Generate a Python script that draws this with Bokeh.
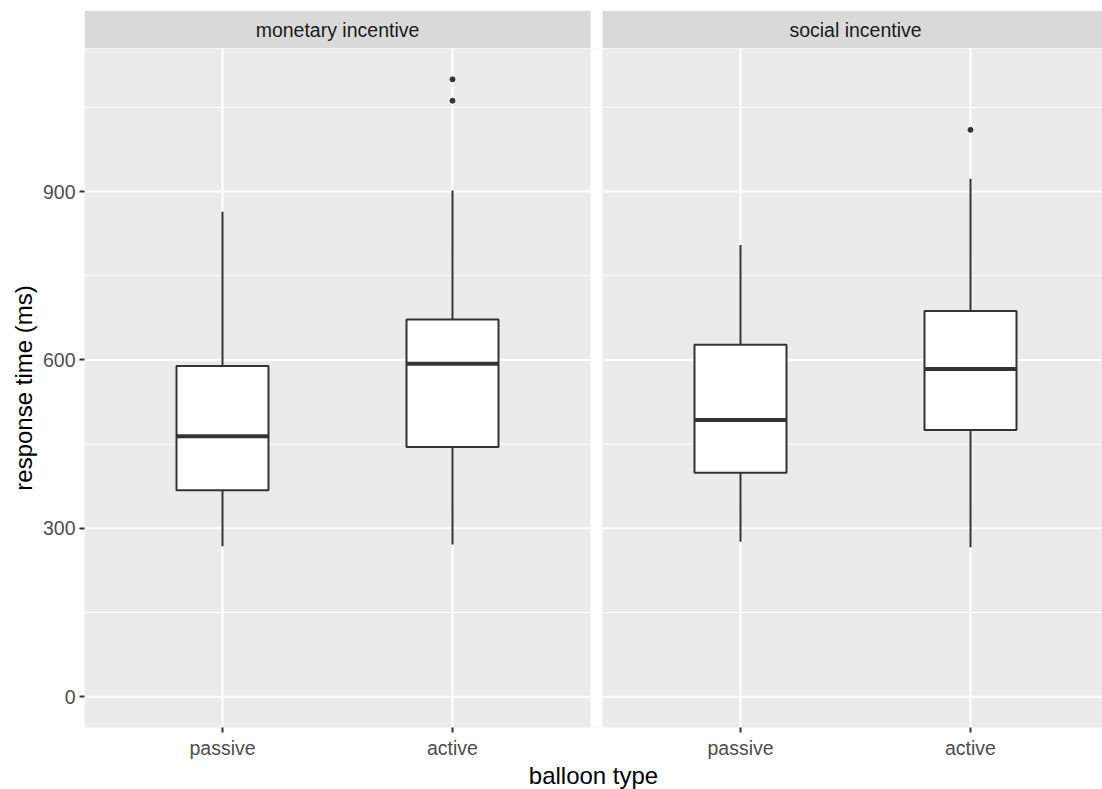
from bokeh.plotting import figure
from bokeh.layouts import column
from bokeh.models import FixedTicker, BoxAnnotation, Range1d, ColumnDataSource
from bokeh.core.properties import value
from bokeh.embed import file_html
from bokeh.resources import INLINE

# ---------------- data ----------------
panels = ["monetary incentive", "social incentive"]
balloon_types = ["passive", "active"]
whisker_low = [[268, 271], [276, 266]]
q1 = [[368, 445], [399, 475]]
median = [[464, 593], [493, 584]]
q3 = [[589, 672], [627, 687]]
whisker_high = [[864, 902], [805, 923]]
outliers = [[[], [1062, 1100]], [[], [1010]]]
y_ticks = [0, 300, 600, 900]
y_minor = [150, 450, 750, 1050]
x_title = "balloon type"
y_title = "response time (ms)"

# ---------------- layout ----------------
FONT = "Liberation Sans"
TICK_FS = "19.5px"
TITLE_FS = "24px"
PANEL_W = 506
GAP = 12
PANEL_H = 679
STRIP_H = 38
LEFT = 84
TOP = 10
BOTTOM = 62
FRAME_W = 1018
BOX_W = 0.4
LC = "#333333"

all_vals = [v for a in (whisker_low, q1, median, q3, whisker_high) for r in a for v in r]
all_vals += [v for r in outliers for o in r for v in o]
ymin_d = min(0, min(all_vals))
ymax_d = max(all_vals)
span = ymax_d - ymin_d
y0 = ymin_d - 0.05 * span
y1 = ymax_d + 0.05 * span

ncat = len(balloon_types)
xl0 = 0.4
xr0 = ncat + 0.6
ux = (xr0 - xl0) / PANEL_W
off = (xr0 - xl0) + GAP * ux
x_end = xl0 + FRAME_W * ux
xr = Range1d(xl0, x_end)

# ---------------- strip figure ----------------
s = figure(frame_width=FRAME_W, frame_height=STRIP_H,
           min_border_left=LEFT, min_border_right=0, min_border_top=TOP, min_border_bottom=0,
           x_range=xr, y_range=Range1d(0, 1), x_axis_type=None, y_axis_type=None,
           output_backend="svg", toolbar_location=None,
           background_fill_color="white", border_fill_color="white", outline_line_color=None)
s.grid.visible = False
strip_src = ColumnDataSource(dict(
    left=[xl0 + k * off for k in range(len(panels))],
    right=[xr0 + k * off for k in range(len(panels))],
    cx=[(xl0 + xr0) / 2 + k * off for k in range(len(panels))],
    name=panels))
s.quad(left="left", right="right", bottom=0, top=1, source=strip_src,
       fill_color="#D9D9D9", line_color=None)
s.text(x="cx", y=0.5, text="name", source=strip_src, text_align="center",
       text_baseline="middle", text_font=value(FONT), text_font_size=TICK_FS,
       text_color="#1A1A1A")

# ---------------- main figure ----------------
p = figure(frame_width=FRAME_W, frame_height=PANEL_H,
           min_border_left=LEFT, min_border_right=0, min_border_top=0,
           min_border_bottom=BOTTOM,
           x_range=xr, y_range=Range1d(y0, y1),
           output_backend="svg", toolbar_location=None,
           background_fill_color="#EBEBEB", border_fill_color="white",
           outline_line_color=None)
p.grid.visible = False

for k in range(len(panels)):
    xl = xl0 + k * off
    xrt = xr0 + k * off
    p.segment(x0=[xl] * len(y_minor), x1=[xrt] * len(y_minor), y0=y_minor, y1=y_minor,
              line_color="white", line_width=1)
    p.segment(x0=[xl] * len(y_ticks), x1=[xrt] * len(y_ticks), y0=y_ticks, y1=y_ticks,
              line_color="white", line_width=2)
    cx = [i + 1 + k * off for i in range(ncat)]
    p.segment(x0=cx, x1=cx, y0=[y0] * ncat, y1=[y1] * ncat, line_color="white", line_width=2)

p.add_layout(BoxAnnotation(left=xr0, right=xl0 + off, fill_color="white", fill_alpha=1,
                           line_color=None, level="underlay"))

rows = dict(x=[], left=[], right=[], lo=[], q1=[], med=[], q3=[], hi=[])
ox, oy = [], []
for k in range(len(panels)):
    for i in range(ncat):
        x = i + 1 + k * off
        rows["x"].append(x)
        rows["left"].append(x - BOX_W / 2)
        rows["right"].append(x + BOX_W / 2)
        rows["lo"].append(whisker_low[k][i])
        rows["q1"].append(q1[k][i])
        rows["med"].append(median[k][i])
        rows["q3"].append(q3[k][i])
        rows["hi"].append(whisker_high[k][i])
        for v in outliers[k][i]:
            ox.append(x)
            oy.append(v)
src = ColumnDataSource(rows)
p.segment(x0="x", x1="x", y0="q3", y1="hi", source=src, line_color=LC, line_width=2)
p.segment(x0="x", x1="x", y0="lo", y1="q1", source=src, line_color=LC, line_width=2)
p.quad(left="left", right="right", bottom="q1", top="q3", source=src,
       fill_color="white", line_color=LC, line_width=2)
p.segment(x0="left", x1="right", y0="med", y1="med", source=src, line_color=LC, line_width=4)
p.scatter(x=ox, y=oy, size=5, color=LC)

xt = []
overrides = {}
for k in range(len(panels)):
    for i, n in enumerate(balloon_types):
        t = i + 1 + k * off
        xt.append(t)
        overrides[t] = n
p.xaxis.ticker = FixedTicker(ticks=xt, minor_ticks=[])
p.xaxis.major_label_overrides = overrides
p.yaxis.ticker = FixedTicker(ticks=y_ticks, minor_ticks=[])
for ax in (p.xaxis, p.yaxis):
    ax.axis_line_color = None
    ax.major_tick_in = 0
    ax.major_tick_out = 5
    ax.major_tick_line_color = LC
    ax.major_tick_line_width = 2
    ax.minor_tick_line_color = None
    ax.major_label_text_font = FONT
    ax.major_label_text_font_size = TICK_FS
    ax.major_label_text_color = "#4D4D4D"
    ax.major_label_standoff = 4
    ax.axis_label_text_font = FONT
    ax.axis_label_text_font_size = TITLE_FS
    ax.axis_label_text_font_style = "normal"
    ax.axis_label_text_color = "black"
p.xaxis.axis_label = x_title
p.yaxis.axis_label = y_title
p.xaxis.axis_label_standoff = 0
p.yaxis.axis_label_standoff = 3

layout = column(s, p, spacing=0)
open("out.html", "w").write(file_html(layout, INLINE))
